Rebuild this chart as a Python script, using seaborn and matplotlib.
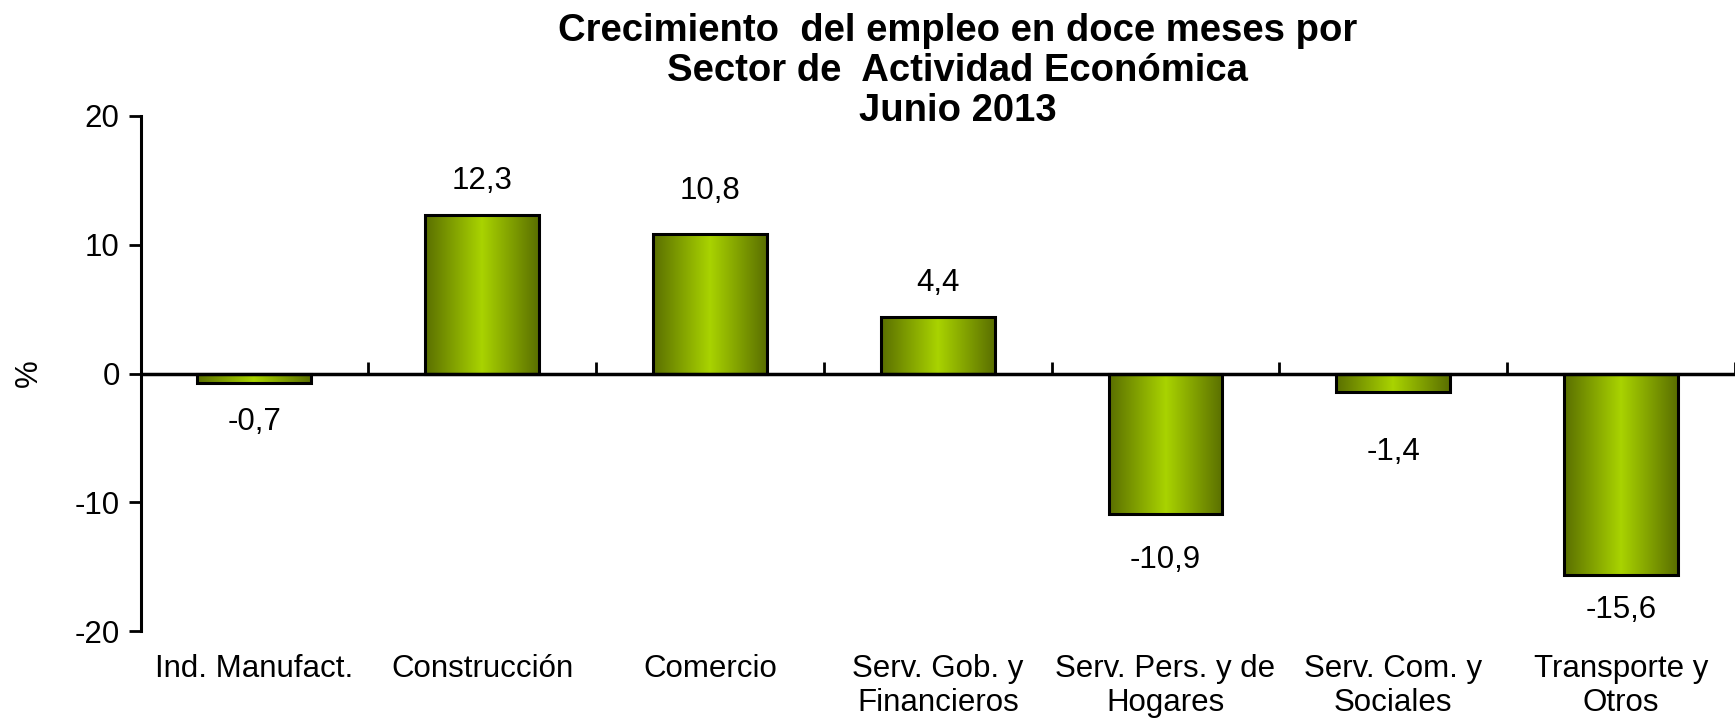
import numpy as np
import pandas as pd
import seaborn as sns
import matplotlib.pyplot as plt
from matplotlib.colors import LinearSegmentedColormap

sectores = ["Ind. Manufact.", "Construcción", "Comercio", "Serv. Gob. y\nFinancieros",
            "Serv. Pers. y de\nHogares", "Serv. Com. y\nSociales", "Transporte y\nOtros"]
crecimiento = [-0.7, 12.3, 10.8, 4.4, -10.9, -1.4, -15.6]
etiquetas = ["-0,7", "12,3", "10,8", "4,4", "-10,9", "-1,4", "-15,6"]
desfase_px = [39, 34, 43, 34, 46, 60, 35]   # distancia etiqueta-barra (como en Excel)
y_ticks = [-20, -10, 0, 10, 20]

df = pd.DataFrame({"sector": sectores, "valor": crecimiento})

sns.set_style("white")
plt.rcParams["font.family"] = ["Liberation Sans", "DejaVu Sans"]
plt.rcParams["axes.unicode_minus"] = False
plt.rcParams["text.color"] = "black"
plt.rcParams["xtick.color"] = "black"
plt.rcParams["ytick.color"] = "black"
plt.rcParams["axes.labelcolor"] = "black"

fig = plt.figure(figsize=(17.35, 7.19), dpi=100)
ax = fig.add_axes([0.081, 0.122, 0.919, 0.717])

sns.barplot(data=df, x="sector", y="valor", width=0.5, facecolor="none",
            edgecolor="black", linewidth=2.2, ax=ax, zorder=4)

# degradado horizontal oscuro-claro-oscuro dentro de cada barra
cmap = LinearSegmentedColormap.from_list("verde", ["#5a6f00", "#a9d300", "#5a6f00"])
grad = np.linspace(0, 1, 256).reshape(1, -1)
for bar in ax.patches:
    x0, w = bar.get_x(), bar.get_width()
    y0, h = bar.get_y(), bar.get_height()
    im = ax.imshow(grad, cmap=cmap, aspect="auto", interpolation="bilinear",
                   extent=[x0, x0 + w, min(y0, y0 + h), max(y0, y0 + h)], zorder=3)
    im.set_clip_path(bar)

for i, (v, t) in enumerate(zip(crecimiento, etiquetas)):
    d = desfase_px[i] if v >= 0 else -desfase_px[i]
    ax.annotate(t, (i, v), xytext=(0, d), textcoords="offset pixels",
                ha="center", va="center", fontsize=22.5)

ax.set_xlim(-0.5, len(sectores) - 0.5)
ax.set_ylim(-20, 20)
ax.set_yticks(y_ticks)
ax.tick_params(axis="y", labelsize=22.5, length=9, width=2, direction="out", pad=6, left=True)
ax.tick_params(axis="x", labelsize=22.5, length=0, pad=16)
ax.set_xlabel("")
ax.set_ylabel("%", fontsize=22.5, labelpad=22)

for s in ["top", "right", "bottom"]:
    ax.spines[s].set_visible(False)
ax.spines["left"].set_linewidth(2.2)
ax.spines["left"].set_color("black")

# eje en cero con marcas entre categorias
ax.axhline(0, color="black", linewidth=2.5, zorder=5)
eje0 = ax.secondary_xaxis(0.5)
eje0.set_xticks(np.arange(0.5, len(sectores), 1.0))
eje0.set_xticklabels([])
eje0.tick_params(length=9, width=2, direction="out")

fig.text(0.552, 0.982, "Crecimiento  del empleo en doce meses por\nSector de  Actividad Económica\nJunio 2013",
         ha="center", va="top", fontsize=27.5, fontweight="bold", linespacing=1.15)

fig.savefig("out.png", dpi=100)
